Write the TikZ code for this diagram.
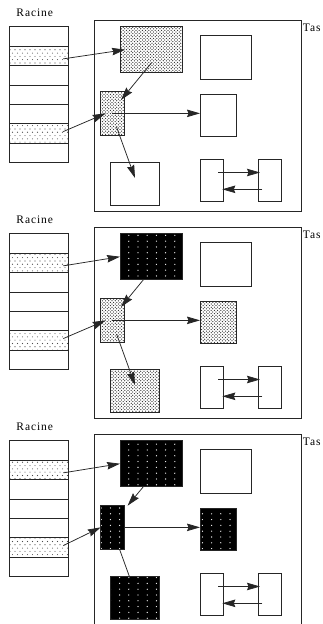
\documentclass[tikz,border=0pt]{standalone}
\usepackage{fontspec}
\setmainfont{Liberation Serif}
\usetikzlibrary{arrows.meta,patterns,calc}

% fine staggered dots (grey shading of touched blocks)
\pgfdeclarepatternformonly{finedots}{\pgfqpoint{-1pt}{-1pt}}{\pgfqpoint{2.6pt}{2.6pt}}{\pgfqpoint{3.2pt}{3.2pt}}{%
  \pgfpathcircle{\pgfqpoint{0pt}{0pt}}{.62pt}%
  \pgfpathcircle{\pgfqpoint{1.6pt}{1.6pt}}{.62pt}%
  \pgfusepath{fill}}
% sparse dots for the marked root cells
\pgfdeclarepatternformonly{rowdots}{\pgfqpoint{-1pt}{-1pt}}{\pgfqpoint{3.5pt}{4.3pt}}{\pgfqpoint{5pt}{6.6pt}}{%
  \pgfpathcircle{\pgfqpoint{0pt}{0pt}}{.55pt}%
  \pgfpathcircle{\pgfqpoint{2.5pt}{3.3pt}}{.55pt}%
  \pgfusepath{fill}}
% regular grid of dots (white on black blocks)
\pgfdeclarepatternformonly{griddots}{\pgfqpoint{-1pt}{-1pt}}{\pgfqpoint{1pt}{1pt}}{\pgfqpoint{9.2pt}{5.8pt}}{%
  \pgfpathcircle{\pgfqpoint{0pt}{0pt}}{.65pt}%
  \pgfusepath{fill}}

\pgfdeclarelayer{back}
\pgfsetlayers{back,main}

\begin{document}
\begin{tikzpicture}[x=1pt,y=-1pt,
  box/.style={draw=black!85, line width=0.9pt, rectangle, inner sep=0pt, outer sep=0pt, anchor=north west},
  plainbox/.style={box},
  dotbox/.style={box, pattern=finedots, pattern color=black!85},
  blackbox/.style={box, preaction={fill=black}, pattern=griddots, pattern color=white},
  cell/.style={box, minimum width=58.5pt, minimum height=19.43pt},
  markedcell/.style={cell, pattern=rowdots, pattern color=black!70},
  conn/.style={draw=black!85, line width=0.75pt, -{Stealth[length=13pt,width=7.5pt,inset=1.5pt]}},
  lbl/.style={font=\fontsize{11.5}{13}\selectfont\addfontfeatures{LetterSpace=8}, inner sep=0pt},
]
\useasboundingbox (0,0) rectangle (322,624);

\foreach \i/\sa/\sc/\sd/\se/\ta/\tc/\tw in {
    0/dotbox/dotbox/plainbox/plainbox/5/{-3,8.3}/5,
    1/blackbox/dotbox/dotbox/dotbox/0/{-3,8.3}/5,
    2/blackbox/blackbox/blackbox/blackbox/0/{3.6,0}/0}{
  \begin{scope}[shift={(0,207*\i)}, name prefix=p\i-]
    % root set
    \node[lbl, anchor=base] (racine) at (34.7,16) {Racine};
    \foreach \k/\st in {1/cell,2/markedcell,3/cell,4/cell,5/cell,6/markedcell,7/cell}
      \node[\st] (r\k) at (9.5,{26.7+19.43*(\k-1)}) {};
    % heap
    \node[box, minimum width=207.4pt, minimum height=191.7pt] (heap) at (94.3,20) {};
    \node[lbl, anchor=base west] (tas) at ($(heap.north east)+(1,11.7)$) {Tas};
    % blocks
    \node[\sa, minimum width=62.7pt, minimum height=46pt] (A) at (120,26.7) {};
    \node[plainbox, minimum width=51.7pt, minimum height=43.3pt] (B) at (200,35.7) {};
    \node[\sc, minimum width=23.3pt, minimum height=43.3pt] (C) at (100.7,91.7) {};
    \node[\sd, minimum width=36pt, minimum height=42.7pt] (D) at (200,94) {};
    \node[\se, minimum width=49.3pt, minimum height=42.3pt] (E) at (110,162.7) {};
    \node[plainbox, minimum width=23.3pt, minimum height=42.4pt] (F) at (200,159.3) {};
    \node[plainbox, minimum width=23.4pt, minimum height=42.4pt] (G) at (258.3,159.3) {};
    % pointers
    \begin{pgfonlayer}{back}
      \draw[conn] ($(r2.east)+(-4.7,3)$) -- ($(A.west)+(\ta,0)$);
      \draw[conn] ($(A.center)+(0.3,13)$) -- ($(C.north east)+(\tc)$);
      \draw[conn] ($(r6.east)+(-4.7,-2)$) -- ($(C.west)+(\tw,0)$);
      \draw[conn] (C.center) -- (C.center -| D.west);
      \draw[conn] ($(C.south)+(4.2,-8)$) -- ($(E.center)+(0.35,-5.85)$);
      \draw[conn] ($(F.center)+(6.7,-8)$) -- ($(G.west)+(1.7,-8)$);
      \draw[conn] ($(G.west)+(4,8.8)$) -- ($(F.east)+(-1,8.8)$);
    \end{pgfonlayer}
  \end{scope}
}
\end{tikzpicture}
\end{document}
